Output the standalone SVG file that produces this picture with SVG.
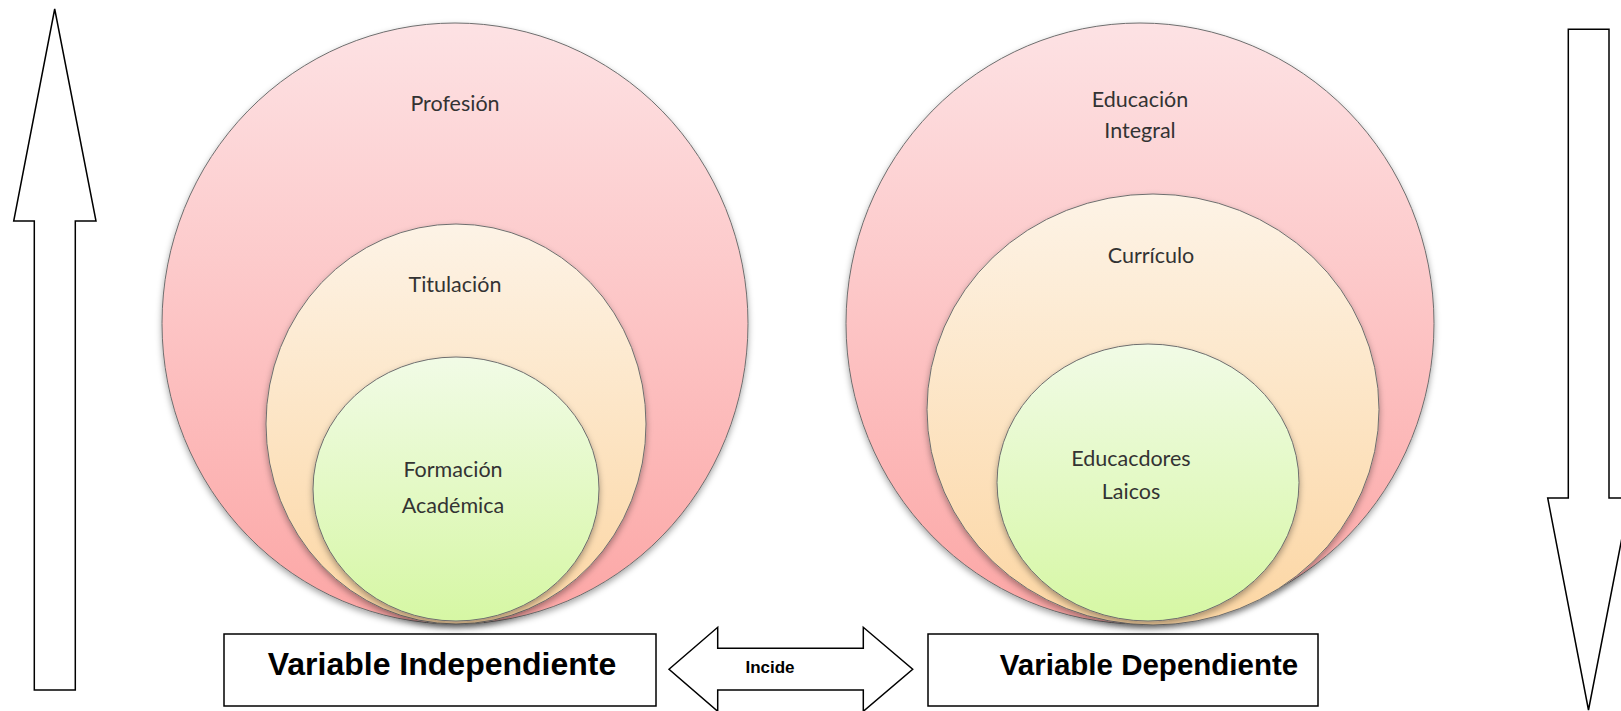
<svg xmlns="http://www.w3.org/2000/svg" width="1621" height="711" viewBox="0 0 1621 711">
<defs>
<linearGradient id="gRed" x1="0" y1="0" x2="0" y2="1"><stop offset="0" stop-color="#fde2e4"/><stop offset="1" stop-color="#fca6a5"/></linearGradient>
<linearGradient id="gTan" x1="0" y1="0" x2="0" y2="1"><stop offset="0" stop-color="#fdf3e6"/><stop offset="1" stop-color="#fcd6a3"/></linearGradient>
<linearGradient id="gGreen" x1="0" y1="0" x2="0" y2="1"><stop offset="0" stop-color="#f1fbe6"/><stop offset="1" stop-color="#d6f7a4"/></linearGradient>
<filter id="sh" x="-10%" y="-10%" width="120%" height="125%"><feDropShadow dx="0" dy="3" stdDeviation="3" flood-color="#000" flood-opacity="0.35"/></filter>
<style>
.c{stroke:#6e6e6e;stroke-width:1;filter:url(#sh)}
.t{font-family:Lato,"Open Sans",sans-serif;font-size:21.5px;fill:#333;text-anchor:middle}
.a{fill:#fff;stroke:#000;stroke-width:1.5}
.b{fill:#fff;stroke:#000;stroke-width:1.5}
.bt{font-family:"Liberation Sans",Arial,sans-serif;font-weight:bold;fill:#000;text-anchor:middle}
.it{font-family:"Liberation Sans",Arial,sans-serif;font-weight:bold;font-size:17px;fill:#000;text-anchor:middle}
</style>
</defs>
<rect width="1621" height="711" fill="#fff"/>
<g id="connectors">
<polygon id="arrow-up" class="a" points="54.7,9 96,221 75.3,221 75.3,690 34.3,690 34.3,221 13.7,221"/>
<polygon id="arrow-down" class="a" points="1568.3,29.3 1609,29.3 1609,498 1629.7,498 1588.5,710 1547.7,498 1568.3,498"/>
<polygon id="arrow-incide" class="a" points="669,669.3 717.7,627.3 717.7,648.3 863.3,648.3 863.3,627.3 912.7,669.3 863.3,711.3 863.3,690 717.7,690 717.7,711.3"/>
<text class="it" x="770" y="673">Incide</text>
</g>
<g id="left-circles">
<g id="profesion"><ellipse class="c" cx="455" cy="323.5" rx="293" ry="300.5" fill="url(#gRed)"/><text class="t" x="455" y="111">Profesión</text></g>
<g id="titulacion"><ellipse class="c" cx="456" cy="424" rx="190" ry="200" fill="url(#gTan)"/><text class="t" x="455" y="292">Titulación</text></g>
<g id="formacion"><ellipse class="c" cx="456" cy="489" rx="143" ry="132" fill="url(#gGreen)"/><text class="t" x="453" y="477">Formación</text><text class="t" x="453" y="513">Académica</text></g>
</g>
<g id="right-circles">
<g id="educacion"><ellipse class="c" cx="1140" cy="323.5" rx="294" ry="300.5" fill="url(#gRed)"/><text class="t" x="1140" y="107">Educación</text><text class="t" x="1140" y="138">Integral</text></g>
<g id="curriculo"><ellipse class="c" cx="1153" cy="409.5" rx="226" ry="215.5" fill="url(#gTan)"/><text class="t" x="1151" y="263">Currículo</text></g>
<g id="educadores"><ellipse class="c" cx="1148" cy="482.5" rx="151" ry="138.5" fill="url(#gGreen)"/><text class="t" x="1131" y="466">Educacdores</text><text class="t" x="1131" y="499">Laicos</text></g>
</g>
<g id="var-indep"><rect class="b" x="224" y="634" width="432" height="72"/><text class="bt" x="442" y="675" font-size="32">Variable Independiente</text></g>
<g id="var-dep"><rect class="b" x="928" y="634" width="390" height="72"/><text class="bt" x="1149" y="675" font-size="29.5">Variable Dependiente</text></g>
</svg>
